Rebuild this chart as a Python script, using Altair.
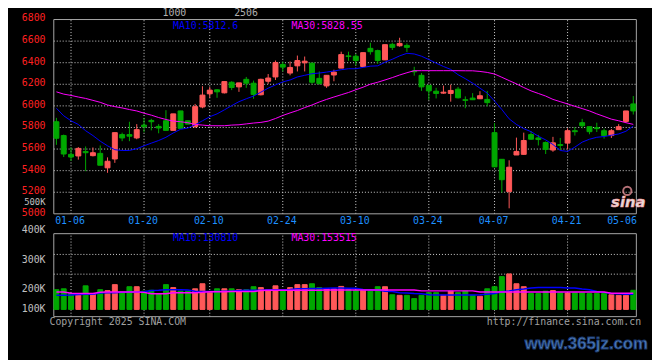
import altair as alt
import pandas as pd

# ---------------- data ----------------
DATES = ["01-02","01-03","01-06","01-07","01-08","01-09","01-10","01-13","01-14","01-15",
         "01-16","01-17","01-20","01-21","01-22","01-23","01-24","01-27","02-05","02-06",
         "02-07","02-10","02-11","02-12","02-13","02-14","02-17","02-18","02-19","02-20",
         "02-21","02-24","02-25","02-26","02-27","02-28","03-03","03-04","03-05","03-06",
         "03-07","03-10","03-11","03-12","03-13","03-14","03-17","03-18","03-19","03-20",
         "03-21","03-24","03-25","03-26","03-27","03-28","03-31","04-01","04-02","04-03",
         "04-07","04-08","04-09","04-10","04-11","04-14","04-15","04-16","04-17","04-18",
         "04-21","04-22","04-23","04-24","04-25","04-28","04-29","04-30","05-06","05-07"]

OPEN = [5853,5725,5551,5536,5578,5539,5560,5426,5508,5734,
        5734,5703,5822,5865,5810,5862,5773,5953,5862,5807,
        5990,6112,6149,6121,6219,6176,6246,6210,6103,6228,
        6268,6384,6304,6371,6399,6396,6255,6185,6286,6350,
        6463,6460,6365,6533,6512,6426,6570,6557,6560,6323,
        6283,6191,6136,6118,6115,6155,6057,6072,6066,6060,
        5752,5505,5206,5545,5551,5734,5703,5661,5591,5642,
        5655,5770,5844,5807,5798,5770,5725,5780,5856,6018]
HIGH = [5889,5734,5615,5618,5624,5615,5633,5523,5752,5752,
        5853,5831,5889,5880,5831,5960,5926,5953,5862,6018,
        6182,6176,6155,6225,6228,6213,6268,6234,6252,6295,
        6420,6408,6411,6466,6457,6396,6319,6283,6335,6502,
        6502,6481,6493,6585,6521,6567,6585,6631,6579,6362,
        6304,6191,6167,6188,6197,6176,6088,6118,6136,6139,
        5841,5505,5496,5706,5752,5767,5731,5670,5713,5703,
        5792,5804,5880,5807,5844,5789,5786,5831,5953,6091]
LOW = [5639,5526,5490,5502,5395,5532,5450,5380,5472,5673,
       5673,5691,5755,5773,5746,5773,5773,5792,5831,5798,
       5978,6075,6075,6115,6146,6130,6167,6066,6097,6204,
       6240,6319,6283,6319,6319,6204,6197,6167,6228,6350,
       6417,6377,6365,6475,6390,6426,6518,6548,6499,6280,
       6139,6054,6069,6112,6039,6069,5978,6054,6063,5996,
       5435,5197,5051,5545,5548,5688,5633,5554,5575,5591,
       5597,5725,5792,5737,5758,5697,5703,5780,5844,5920]
CLOSE = [5700,5554,5526,5606,5566,5566,5450,5487,5752,5703,
         5719,5780,5807,5853,5795,5773,5926,5792,5831,5993,
         6100,6146,6130,6225,6170,6213,6210,6106,6246,6258,
         6402,6359,6356,6420,6414,6219,6207,6283,6313,6475,
         6457,6420,6493,6502,6420,6567,6542,6579,6542,6316,
         6176,6139,6115,6127,6143,6075,6051,6057,6094,6030,
         5435,5316,5432,5578,5679,5691,5688,5597,5658,5633,
         5770,5761,5816,5761,5789,5725,5770,5807,5953,5953]
VOLUME = [199,202,186,186,212,186,199,196,216,191,
          209,209,194,197,186,216,206,194,194,202,
          219,191,202,202,202,199,199,209,206,199,
          212,197,206,216,216,219,206,202,202,210,
          199,197,197,194,209,209,182,180,180,169,
          180,189,189,180,194,189,194,180,177,202,
          209,243,252,219,209,186,186,194,196,188,
          188,188,188,186,186,186,182,180,180,197]  # thousands
MA10 = [5978,5908,5862,5828,5770,5725,5673,5630,5594,5587,
        5587,5603,5630,5655,5679,5709,5749,5783,5795,5825,
        5862,5899,5926,5963,6002,6039,6066,6091,6127,6164,
        6194,6222,6240,6268,6283,6298,6304,6313,6323,6335,
        6344,6344,6356,6368,6371,6405,6432,6463,6487,6481,
        6460,6429,6396,6365,6338,6289,6252,6210,6164,6118,
        6045,5966,5880,5828,5789,5761,5719,5685,5642,5587,
        5578,5618,5664,5691,5709,5716,5728,5740,5765,5812.6]
MA30 = [6130,6109,6097,6082,6069,6051,6033,6008,5993,5981,
        5966,5953,5932,5914,5892,5874,5859,5853,5844,5828,
        5822,5816,5816,5816,5822,5825,5833,5841,5847,5859,
        5883,5911,5935,5957,5984,6008,6036,6060,6082,6103,
        6124,6149,6173,6201,6219,6240,6262,6286,6307,6326,
        6326,6326,6326,6326,6326,6326,6325,6325,6319,6310,
        6295,6265,6234,6204,6170,6139,6115,6091,6060,6039,
        6018,5996,5975,5953,5926,5902,5877,5862,5844,5828.55]
VOL_MA10 = [180,180,181,183,184,184,188,189,189,190,
            191,191,192,196,197,199,199,199,198,194,
            193,193,193,194,194,196,197,197,197,199,
            199,199,200,202,202,203,203,204,205,205,
            204,204,200,199,198,194,193,189,188,186,
            185,182,181,181,181,181,181,181,182,184,
            186,192,195,199,201,205,206,206,206,206,
            205,205,201,199,193,190,186,185,184,184]
VOL_MA30 = [191,191,187,186,186,186,190,191,191,191,
            191,191,190,185,185,185,189,189,189,189,
            190,192,192,192,193,193,193,193,196,197,
            197,197,197,197,197,197,197,198,198,198,
            198,198,198,198,198,198,198,198,198,198,
            195,195,195,195,195,195,195,195,191,191,
            191,191,191,191,191,191,191,191,191,191,
            191,191,191,191,191,191,187,187,187,187]

PRICE_TICKS = [5000, 5200, 5400, 5600, 5800, 6000, 6200, 6400, 6600, 6800]
PRICE_GRID = [5200, 5400, 5600, 5800, 6000, 6200, 6400, 6600]
EXTRA_PRICE_LABEL = ("500K", 5112)
DATE_TICKS = ["01-06", "01-20", "02-10", "02-24", "03-10", "03-24", "04-07", "04-21"]
LAST_DATE_LABEL = "05-06"
VOL_TICK_LABELS = ["400K", "300K", "200K", "100K"]
VOL_TICK_VALUES = [400000, 300000, 200000, 132600]
VOL_GRID = [317600, 251200]
PRICE_MA_TEXT = ["MA10:5812.6", "MA30:5828.55"]
VOL_MA_TEXT = ["MA10:130810", "MA30:153515"]

# ---------------- layout constants ----------------
W, H = 652, 352
X_DOMAIN = [-5.954, 80.887]
PRICE_DOMAIN = [3665.9, 6886.7]
PANEL_X = [-0.36, 79.42]
PRICE_PANEL = [5000, 6800]
VOL_PANEL = [108300, 387400]
VOL_BASE = 132600
# volume panel is placed below the price panel: volume -> shared vertical coordinate
VOL_EXPR = "4300 + 0.0027541 * ({} - 200000)"

RED = "#ff5858"
GREEN = "#00a800"
GRID = "#d4d4d4"
BORDER = "#a8a8a8"
MONO = "DejaVu Sans Mono"

df = pd.DataFrame({
    "i": list(range(len(DATES))), "date": DATES,
    "open": OPEN, "high": HIGH, "low": LOW, "close": CLOSE,
    "volume": [v * 1000 for v in VOLUME],
    "ma10": MA10, "ma30": MA30,
    "vma10": [v * 1000 for v in VOL_MA10], "vma30": [v * 1000 for v in VOL_MA30],
    "vbase": VOL_BASE,
})
df["dir"] = ["up" if c >= o else "down" for o, c in zip(OPEN, CLOSE)]

xs = alt.Scale(domain=X_DOMAIN, nice=False, zero=False)
ys = alt.Scale(domain=PRICE_DOMAIN, nice=False, zero=False)
cscale = alt.Scale(domain=["up", "down"], range=[RED, GREEN])


def XF(f):
    return alt.X(f, scale=xs, axis=None)


def YF(f):
    return alt.Y(f, scale=ys, axis=None)


def vcalc(chart, **fields):
    return chart.transform_calculate(**{k: VOL_EXPR.format("datum." + v) for k, v in fields.items()})


base = alt.Chart(df)
grid_dates = pd.DataFrame({"i": [DATES.index(d) for d in DATE_TICKS], "label": DATE_TICKS})
panel_df = pd.DataFrame({"x0": [PANEL_X[0]], "x1": [PANEL_X[1]],
                         "p0": [PRICE_PANEL[0]], "p1": [PRICE_PANEL[1]],
                         "v0": [VOL_PANEL[0]], "v1": [VOL_PANEL[1]]})
vgrid_df = grid_dates.assign(p0=PRICE_PANEL[0], p1=PRICE_PANEL[1], v0=VOL_PANEL[0], v1=VOL_PANEL[1])
color = alt.Color("dir:N", scale=cscale, legend=None)
stroke = alt.Stroke("dir:N", scale=cscale, legend=None)
dotted = dict(color=GRID, strokeDash=[1, 2], strokeWidth=1)

# ---------- price panel ----------
p_hgrid = alt.Chart(pd.DataFrame({"p": PRICE_GRID, "x0": PANEL_X[0], "x1": PANEL_X[1]})).mark_rule(
    **dotted).encode(x=XF("x0:Q"), x2="x1:Q", y=YF("p:Q"))
p_vgrid = alt.Chart(vgrid_df).mark_rule(**dotted).encode(x=XF("i:Q"), y=YF("p0:Q"), y2="p1:Q")
p_border = alt.Chart(panel_df).mark_rect(filled=False, stroke=BORDER, strokeWidth=1).encode(
    x=XF("x0:Q"), x2="x1:Q", y=YF("p0:Q"), y2="p1:Q")
wick = base.mark_rule(strokeWidth=1).encode(x=XF("i:Q"), y=YF("low:Q"), y2="high:Q", color=color)
body = base.mark_bar(size=5, strokeWidth=1).encode(
    x=XF("i:Q"), y=YF("open:Q"), y2="close:Q", color=color, stroke=stroke)
ma10 = base.mark_line(color="#0000ff", strokeWidth=1).encode(x=XF("i:Q"), y=YF("ma10:Q"))
ma30 = base.mark_line(color="#ff00ff", strokeWidth=1).encode(x=XF("i:Q"), y=YF("ma30:Q"))
p_labels = alt.Chart(pd.DataFrame({"p": PRICE_TICKS, "t": [str(v) for v in PRICE_TICKS]})).mark_text(
    align="right", baseline="middle", font=MONO, fontSize=10, color="#ff2020", dy=-1).encode(
    x=alt.value(38), y=YF("p:Q"), text="t:N")
p_500k = alt.Chart(pd.DataFrame({"p": [EXTRA_PRICE_LABEL[1]], "t": [EXTRA_PRICE_LABEL[0]]})).mark_text(
    align="right", baseline="middle", font=MONO, fontSize=9, color="#c0c0c0").encode(
    x=alt.value(38), y=YF("p:Q"), text="t:N")

# ---------- volume panel ----------
v_hgrid = vcalc(alt.Chart(pd.DataFrame({"v": VOL_GRID, "x0": PANEL_X[0], "x1": PANEL_X[1]})),
                y="v").mark_rule(**dotted).encode(x=XF("x0:Q"), x2="x1:Q", y=YF("y:Q"))
v_vgrid = vcalc(alt.Chart(vgrid_df), ya="v0", yb="v1").mark_rule(**dotted).encode(
    x=XF("i:Q"), y=YF("ya:Q"), y2="yb:Q")
v_border = vcalc(alt.Chart(panel_df), ya="v0", yb="v1").mark_rect(
    filled=False, stroke=BORDER, strokeWidth=1).encode(x=XF("x0:Q"), x2="x1:Q", y=YF("ya:Q"), y2="yb:Q")
vbars = vcalc(base, vy="volume", vb="vbase").mark_bar(size=5, strokeWidth=1).encode(
    x=XF("i:Q"), y=YF("vy:Q"), y2="vb:Q", color=color, stroke=stroke)
vma10 = vcalc(base, m="vma10").mark_line(color="#0000ff", strokeWidth=1.5).encode(x=XF("i:Q"), y=YF("m:Q"))
vma30 = vcalc(base, m="vma30").mark_line(color="#ff00ff", strokeWidth=1.5).encode(x=XF("i:Q"), y=YF("m:Q"))
v_labels = vcalc(alt.Chart(pd.DataFrame({"v": VOL_TICK_VALUES, "t": VOL_TICK_LABELS})), y="v").mark_text(
    align="right", baseline="middle", font=MONO, fontSize=10, color="#c0c0c0").encode(
    x=alt.value(38), y=YF("y:Q"), text="t:N")


# ---------- texts ----------
def txt(s, x, y, col, align="left", size=10, font=MONO, **kw):
    return alt.Chart(pd.DataFrame({"t": [s]})).mark_text(
        align=align, baseline="middle", font=font, fontSize=size, color=col, **kw).encode(
        x=alt.value(x), y=alt.value(y), text="t:N")


date_labels = alt.Chart(grid_dates).mark_text(
    align="center", baseline="middle", font=MONO, fontSize=10, color="#1e90ff", dx=-1).encode(
    x=XF("i:Q"), y=alt.value(213), text="label:N")
last_label = alt.Chart(pd.DataFrame({"i": [DATES.index(LAST_DATE_LABEL)], "label": [LAST_DATE_LABEL]})).mark_text(
    align="center", baseline="middle", font=MONO, fontSize=10, color="#1e90ff", dx=-4).encode(
    x=XF("i:Q"), y=alt.value(213), text="label:N")

sina_eye = alt.Chart(pd.DataFrame({"k": [0]})).mark_point(
    shape="circle", size=70, filled=False, stroke="#ffa0a8", strokeWidth=2).encode(
    x=alt.value(627), y=alt.value(183))

layers = [
    p_hgrid, p_vgrid, p_border, wick, body, ma10, ma30, p_labels, p_500k,
    v_hgrid, v_vgrid, v_border, vbars, vma10, vma30, v_labels,
    date_labels, last_label,
    txt("1000", 168.5, 3, "#b0b0b0", align="center"),
    txt("2506", 241, 3, "#b0b0b0", align="center"),
    txt(PRICE_MA_TEXT[0], 167, 15.7, "#0000ff"),
    txt(PRICE_MA_TEXT[1], 287, 15.7, "#ff00ff"),
    txt(VOL_MA_TEXT[0], 167, 230.7, "#0000ff"),
    txt(VOL_MA_TEXT[1], 287, 230.7, "#ff00ff"),
    txt("Copyright 2025 SINA.COM", 42, 316, "#a0a0a0"),
    txt("http://finance.sina.com.cn", 641, 316, "#a0a0a0", align="right"),
    sina_eye,
    txt("sina", 628, 194, "#dedede", align="center", size=15, font="DejaVu Sans",
        fontStyle="italic", fontWeight="bold", stroke="#ff9da0", strokeWidth=0.6),
    txt("www.365jz.com", 648, 338, "#4a78b8", align="right", size=17, font="Liberation Sans",
        fontWeight="bold", stroke="#1c3a6e", strokeWidth=0.8),
]

chart = alt.layer(*layers).properties(
    width=W, height=H, padding=0, background="black",
    autosize=alt.AutoSizeParams(type="none"),
).configure_view(strokeWidth=0)

chart.save("out.html", embed_options={"renderer": "svg", "actions": False})
